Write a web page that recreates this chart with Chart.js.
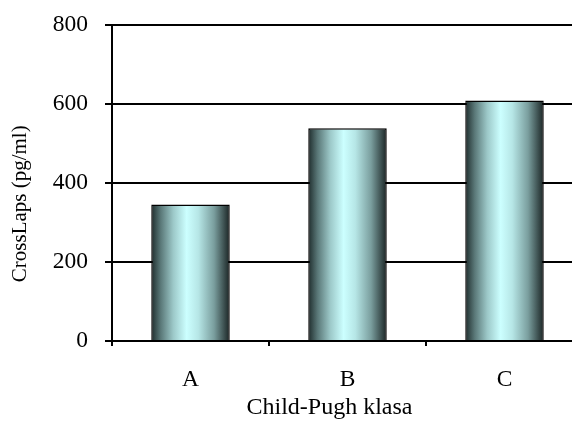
<!DOCTYPE html>
<html><head><meta charset="utf-8">
<script src="https://cdn.jsdelivr.net/npm/chart.js@4"></script>
<style>html,body{margin:0;padding:0;overflow:hidden;background:#fff}#c{display:block}</style>
</head><body><canvas id="c" width="590" height="422" style="width:590px;height:422px"></canvas>
<script>
const categories = ['A', 'B', 'C'];
const values = [345, 538, 608];
const yTickValues = [0, 200, 400, 600, 800];
const xTitle = 'Child-Pugh klasa';
const yTitle = 'CrossLaps (pg/ml)';

const FONT = "'Liberation Serif','Times New Roman',serif";
const BAR_PCT = 0.5;

function barGradient(ctx) {
  const chart = ctx.chart;
  const xs = chart.scales && chart.scales.x;
  if (!xs || ctx.dataIndex === undefined || !isFinite(xs.width) || xs.width <= 0) return '#aadddd';
  const cx = xs.getPixelForValue(ctx.dataIndex);
  const w = (xs.width / categories.length) * BAR_PCT;
  const l = cx - w / 2, r = cx + w / 2;
  const g = chart.ctx.createLinearGradient(l, 0, r, 0);
  g.addColorStop(0.00, '#1e2c2c');
  g.addColorStop(0.12, '#5a7878');
  g.addColorStop(0.28, '#9cc8c8');
  g.addColorStop(0.45, '#ccffff');
  g.addColorStop(0.60, '#b6e6e6');
  g.addColorStop(0.80, '#7a9e9e');
  g.addColorStop(1.00, '#1a2424');
  return g;
}

const NB = '\u00a0';
new Chart(document.getElementById('c'), {
  type: 'bar',
  data: {
    labels: categories,
    datasets: [{
      data: values,
      backgroundColor: barGradient,
      borderColor: '#000',
      borderWidth: 1.5,
      categoryPercentage: 1.0,
      barPercentage: BAR_PCT
    }]
  },
  options: {
    responsive: false,
    animation: false,
    layout: { padding: { top: 24.5, right: 7, left: 0, bottom: 0 } },
    plugins: { legend: { display: false }, tooltip: { enabled: false } },
    scales: {
      x: {
        grid: { display: true, drawOnChartArea: false, color: '#000', lineWidth: 2, tickLength: 5, offset: true },
        border: { display: true, color: '#000', width: 2 },
        ticks: { color: '#000', font: { family: FONT, size: 23.5 }, padding: 20 },
        title: { display: true, text: xTitle + NB.repeat(6), color: '#000', font: { family: FONT, size: 24 }, padding: { top: 0, bottom: 0 } },
        afterFit(s) { s.height = 81; s.paddingLeft = 0; s.paddingRight = 0; }
      },
      y: {
        min: 0, max: 800,
        afterBuildTicks(s) { s.ticks = yTickValues.map(v => ({ value: v })); },
        grid: { color: '#000', lineWidth: 2, tickLength: 7 },
        border: { display: true, color: '#000', width: 2 },
        ticks: { color: '#000', font: { family: FONT, size: 23.5 }, padding: 17 },
        title: { display: true, text: yTitle + NB.repeat(8), color: '#000', font: { family: FONT, size: 21 }, padding: { top: 8, bottom: 0 } },
        afterFit(s) { s.width = 112; s.paddingTop = 0; s.paddingBottom = 0; }
      }
    }
  }
});
</script>
</body></html>
